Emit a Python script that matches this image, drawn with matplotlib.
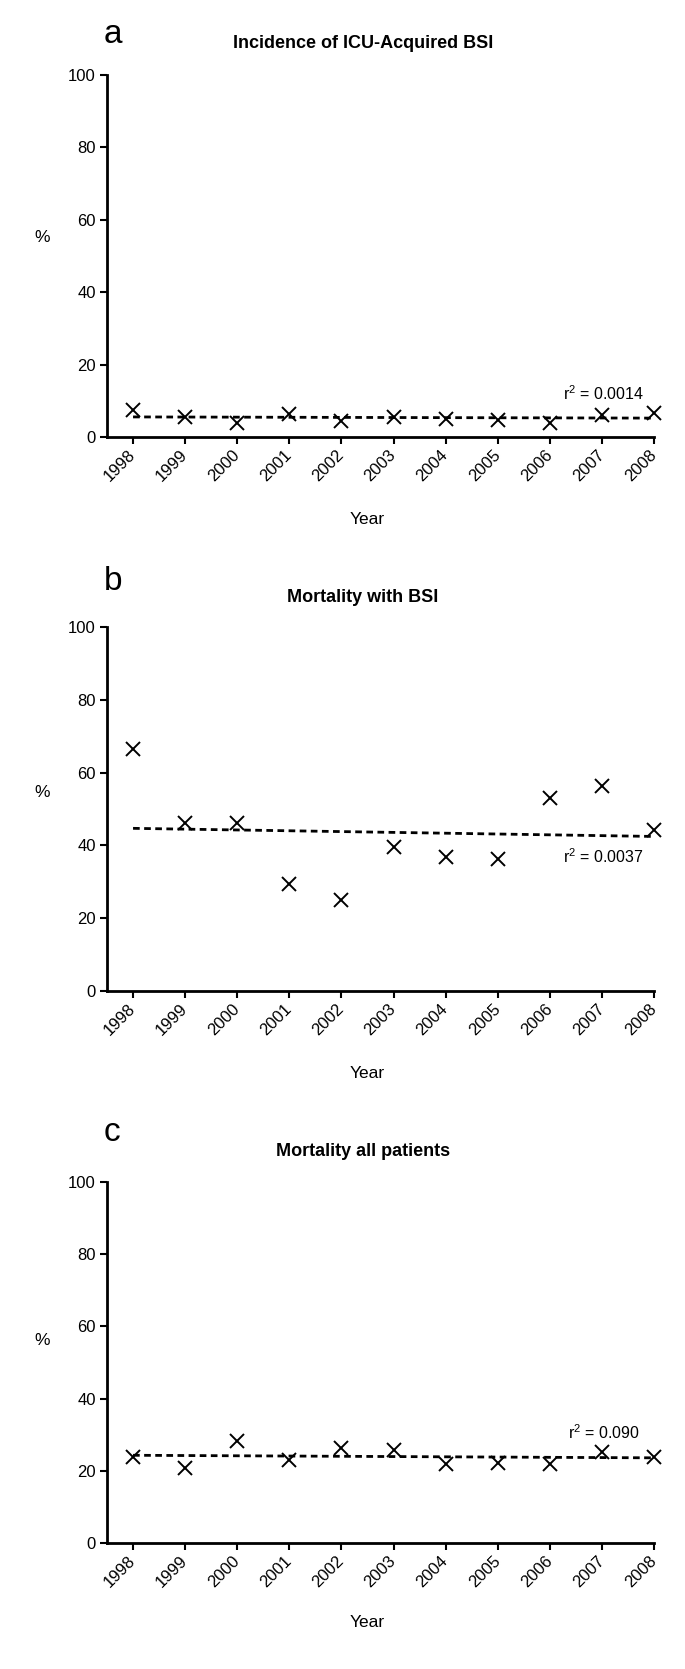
import numpy as np
import matplotlib
matplotlib.use('Agg')
import matplotlib.pyplot as plt

plt.rcParams['font.family'] = ['Liberation Sans', 'DejaVu Sans']
plt.rcParams['mathtext.default'] = 'regular'

years = [1998, 1999, 2000, 2001, 2002, 2003, 2004, 2005, 2006, 2007, 2008]

# % values
incidence = [7.5, 5.4, 3.8, 6.3, 4.3, 5.4, 5.1, 4.7, 4.0, 6.2, 6.5]
mort_bsi = [66.5, 46.2, 46.2, 29.3, 25.0, 39.5, 36.7, 36.2, 53.1, 56.4, 44.2]
mort_all = [23.9, 20.9, 28.3, 23.0, 26.4, 25.8, 21.8, 22.2, 21.9, 25.3, 23.9]

letters = ['a', 'b', 'c']
titles = ['Incidence of ICU-Acquired BSI', 'Mortality with BSI', 'Mortality all patients']
r2_text = ['r$^{2}$ = 0.0014', 'r$^{2}$ = 0.0037', 'r$^{2}$ = 0.090']
r2_pos = [(2006.25, 11.9), (2006.25, 36.8), (2006.35, 30.5)]
series = [incidence, mort_bsi, mort_all]

W, H = 685, 1669
fig = plt.figure(figsize=(W / 100, H / 100), dpi=100)

# pixel layout of each panel: axes top, axes bottom, letter baseline, title y, % y, Year y
rows = [(75, 437, 43, 43, 238, 520),
        (627, 991, 590, 597, 792, 1073),
        (1182, 1543, 1141, 1151, 1340, 1622)]
ax_left, ax_right = 107, 654

for i in range(3):
    top, bot, let_y, tit_y, pc_y, yr_y = rows[i]
    ax = fig.add_axes([ax_left / W, 1 - bot / H, (ax_right - ax_left) / W, (bot - top) / H])
    y = series[i]
    ax.plot(years, y, linestyle='none', marker='x', ms=10, mew=1.4, color='black', clip_on=False, zorder=3)
    # linear trend line through the points
    k, b = np.polyfit(years, y, 1)
    fx = np.array([years[0], years[-1]])
    ax.plot(fx, k * fx + b, color='black', lw=2.0, dashes=(2.4, 1.6), clip_on=False)
    ax.set_xlim(1997.5, 2008)
    ax.set_ylim(0, 100)
    ax.set_yticks([0, 20, 40, 60, 80, 100])
    ax.set_xticks(years)
    ax.set_xticklabels([str(v) for v in years], rotation=45, ha='right', va='center',
                       rotation_mode='anchor')
    ax.tick_params(axis='both', direction='out', length=5, width=1.5, labelsize=12, pad=3)
    ax.tick_params(axis='x', pad=6)
    for s in ['top', 'right']:
        ax.spines[s].set_visible(False)
    for s in ['left', 'bottom']:
        ax.spines[s].set_linewidth(2)
    ax.text(r2_pos[i][0], r2_pos[i][1], r2_text[i], fontsize=11.5, ha='left', va='center')

    fig.text(104 / W, 1 - let_y / H, letters[i], fontsize=24, ha='left', va='baseline')
    fig.text(363 / W, 1 - tit_y / H, titles[i], fontsize=13, fontweight='bold', ha='center', va='center')
    fig.text(42 / W, 1 - pc_y / H, '%', fontsize=12.5, ha='center', va='center')
    fig.text(367 / W, 1 - yr_y / H, 'Year', fontsize=12.5, ha='center', va='center')

fig.savefig('out.png', dpi=100)
